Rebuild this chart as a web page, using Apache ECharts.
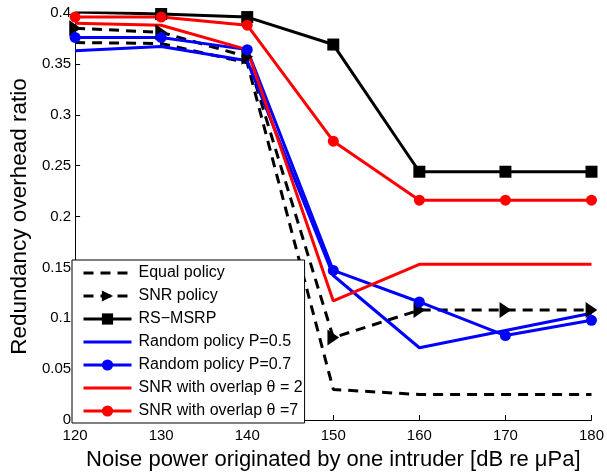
<!DOCTYPE html>
<html>
<head>
<meta charset="utf-8">
<script src="https://cdn.jsdelivr.net/npm/echarts@6/dist/echarts.min.js"></script>
<style>
  html, body { margin: 0; padding: 0; background: #fff; }
  #chart { width: 607px; height: 476px; }
</style>
</head>
<body>
<div id="chart"></div>
<script>
// noise power (dB re uPa)
const noise = [120, 130, 140, 150, 160, 170, 180];

// redundancy overhead ratio per policy
const equalPolicy = [0.371, 0.370, 0.351, 0.030, 0.025, 0.025, 0.025];
const snrPolicy = [0.385, 0.381, 0.357, 0.081, 0.108, 0.108, 0.108];
const rsMsrp = [0.401, 0.399, 0.396, 0.369, 0.244, 0.244, 0.244];
const randomP05 = [0.363, 0.367, 0.353, 0.142, 0.071, 0.088, 0.105];
const randomP07 = [0.376, 0.376, 0.364, 0.147, 0.116, 0.083, 0.098];
const overlap2 = [0.390, 0.388, 0.364, 0.117, 0.153, 0.153, 0.153];
const overlap7 = [0.396, 0.396, 0.388, 0.274, 0.216, 0.216, 0.216];

const pairs = arr => noise.map((x, i) => [x, arr[i]]);

const font = 'Liberation Sans, Helvetica, Arial, sans-serif';
const triRight = 'path://M0,0 L10,6 L0,12 Z';

function line(name, data, color, opts) {
	return Object.assign({
		name: name,
		type: 'line',
		data: pairs(data),
		symbol: 'none',
		symbolSize: 10,
		animation: false,
		itemStyle: { color: color },
		lineStyle: { color: color, width: 3 }
	}, opts || {});
}

// legend entries without a marker: hide the default circle
const noMark = name => ({ name: name, itemStyle: { opacity: 0 } });

const chart = echarts.init(document.getElementById('chart'));
chart.setOption({
	animation: false,
	grid: { left: 72, right: 14, top: 13, bottom: 54 },
	xAxis: {
		type: 'value',
		min: 120, max: 180, interval: 10,
		name: 'Noise power originated by one intruder [dB re μPa]',
		nameLocation: 'middle',
		nameGap: 29,
		nameTextStyle: { fontFamily: font, fontSize: 22, color: '#000' },
		axisLine: { lineStyle: { color: '#000', width: 1 } },
		axisTick: { inside: true, length: 5, lineStyle: { color: '#000' } },
		axisLabel: { fontFamily: font, fontSize: 15, color: '#000', margin: 8 },
		splitLine: { show: false }
	},
	yAxis: {
		type: 'value',
		min: 0, max: 0.4, interval: 0.05,
		name: 'Redundancy overhead ratio',
		nameLocation: 'middle',
		nameGap: 33,
		nameTextStyle: { fontFamily: font, fontSize: 22.5, color: '#000' },
		axisLine: { show: true, lineStyle: { color: '#000', width: 1 } },
		axisTick: { show: true, inside: true, length: 5, lineStyle: { color: '#000' } },
		axisLabel: { fontFamily: font, fontSize: 15, color: '#000', margin: 4 },
		splitLine: { show: false }
	},
	legend: {
		orient: 'vertical',
		left: 72,
		top: 260,
		padding: [5, 2, 4, 10],
		itemWidth: 48,
		itemHeight: 14,
		itemGap: 7,
		backgroundColor: '#fff',
		borderColor: '#000',
		borderWidth: 1,
		borderRadius: 0,
		lineStyle: { width: 3 },
		textStyle: { fontFamily: font, fontSize: 16, color: '#000', padding: [0, 0, 0, 2] },
		data: [
			noMark('Equal policy'),
			'SNR policy',
			'RS\u2212MSRP',
			noMark('Random policy P=0.5'),
			'Random policy P=0.7',
			noMark('SNR with overlap θ = 2'),
			'SNR with overlap θ =7'
		]
	},
	series: [
		line('Equal policy', equalPolicy, '#000', {
			lineStyle: { color: '#000', width: 3, type: [10, 7] }
		}),
		line('SNR policy', snrPolicy, '#000', {
			symbol: triRight, symbolSize: [14, 16], symbolKeepAspect: true,
			lineStyle: { color: '#000', width: 3, type: [10, 7] }
		}),
		line('RS\u2212MSRP', rsMsrp, '#000', { symbol: 'rect', symbolSize: 12 }),
		line('Random policy P=0.5', randomP05, '#0000ff'),
		line('Random policy P=0.7', randomP07, '#0000ff', { symbol: 'circle', symbolSize: 11 }),
		line('SNR with overlap θ = 2', overlap2, '#ff0000'),
		line('SNR with overlap θ =7', overlap7, '#ff0000', { symbol: 'circle', symbolSize: 11 })
	]
});
</script>
</body>
</html>
